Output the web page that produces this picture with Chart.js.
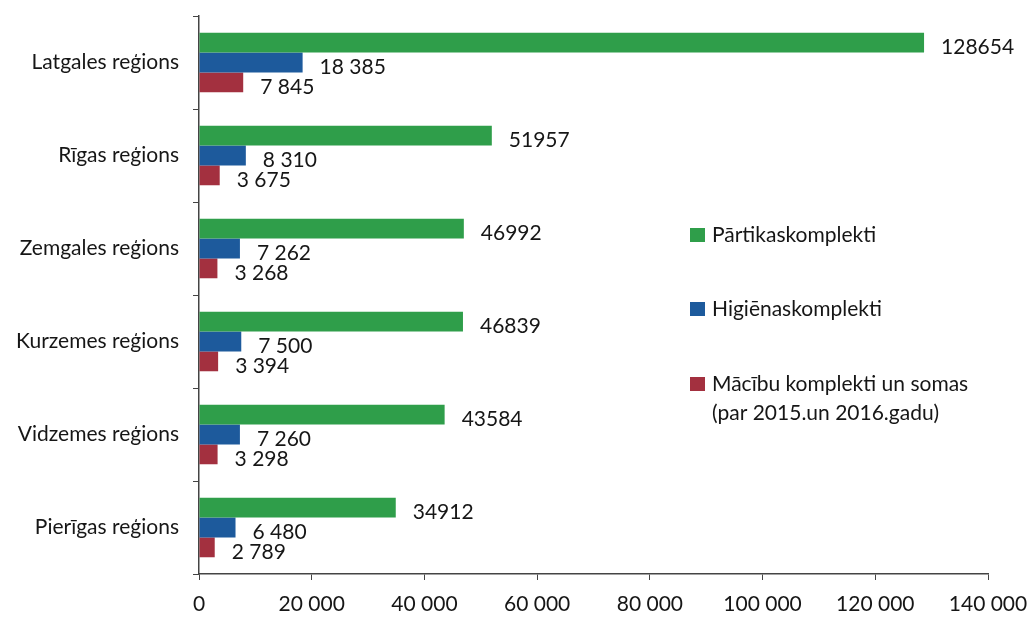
<!DOCTYPE html>
<html>
<head>
<meta charset="utf-8">
<script src="https://cdn.jsdelivr.net/npm/chart.js@4"></script>
<style>
  html, body { margin: 0; padding: 0; background: #fff; }
  #wrap { width: 1027px; height: 621px; }
</style>
</head>
<body>
<div id="wrap"><canvas id="chart" width="1027" height="621"></canvas></div>
<script>
const regions = ['Latgales reģions', 'Rīgas reģions', 'Zemgales reģions', 'Kurzemes reģions', 'Vidzemes reģions', 'Pierīgas reģions'];
const seriesNames = ['Pārtikaskomplekti', 'Higiēnaskomplekti', ['Mācību komplekti un somas', '(par 2015.un 2016.gadu)']];
const partika = [128654, 51957, 46992, 46839, 43584, 34912];
const higiena = [18385, 8310, 7262, 7500, 7260, 6480];
const macibu = [7845, 3675, 3268, 3394, 3298, 2789];
const xTicks = [0, 20000, 40000, 60000, 80000, 100000, 120000, 140000];

const colors = ['#2f9e4a', '#1d5a9c', '#a3303f'];
const fontFamily = 'Lato, "Open Sans", sans-serif';
const textColor = '#161616';

function spaced(n) {
  return String(n).replace(/\B(?=(\d{3})+(?!\d))/g, ' ');
}

// value labels to the right of each bar
const valueLabels = {
  id: 'valueLabels',
  afterDatasetsDraw(chart) {
    const ctx = chart.ctx;
    ctx.save();
    ctx.font = '21px ' + fontFamily;
    ctx.fillStyle = textColor;
    ctx.textAlign = 'left';
    ctx.textBaseline = 'middle';
    chart.data.datasets.forEach((ds, i) => {
      chart.getDatasetMeta(i).data.forEach((bar, j) => {
        const v = ds.data[j];
        const txt = i === 0 ? String(v) : spaced(v);
        ctx.fillText(txt, bar.x + 17, bar.y + 5);
      });
    });
    ctx.restore();
  }
};

// legend drawn at the right, like the original
const sideLegend = {
  id: 'sideLegend',
  afterDraw(chart) {
    const ctx = chart.ctx;
    const rows = [235, 309, 384];
    ctx.save();
    ctx.font = '21px ' + fontFamily;
    ctx.textBaseline = 'middle';
    chart.data.datasets.forEach((ds, i) => {
      const y = rows[i];
      ctx.fillStyle = ds.backgroundColor;
      ctx.fillRect(690, y - 7, 15, 14);
      ctx.fillStyle = textColor;
      const lines = Array.isArray(seriesNames[i]) ? seriesNames[i] : [seriesNames[i]];
      lines.forEach((l, k) => ctx.fillText(l, 712, y + k * 29));
    });
    ctx.restore();
  }
};

new Chart(document.getElementById('chart'), {
  type: 'bar',
  data: {
    labels: regions,
    datasets: [
      { label: 'Pārtikaskomplekti', data: partika, backgroundColor: colors[0] },
      { label: 'Higiēnaskomplekti', data: higiena, backgroundColor: colors[1] },
      { label: 'Mācību komplekti un somas (par 2015.un 2016.gadu)', data: macibu, backgroundColor: colors[2] }
    ]
  },
  options: {
    indexAxis: 'y',
    responsive: false,
    animation: false,
    layout: { padding: { top: 16, right: 39, left: 0, bottom: 0 } },
    datasets: { bar: { categoryPercentage: 0.64, barPercentage: 1.0 } },
    plugins: { legend: { display: false }, tooltip: { enabled: false } },
    scales: {
      x: {
        min: 0,
        max: 140000,
        afterBuildTicks(scale) { scale.ticks = xTicks.map(v => ({ value: v })); },
        afterFit(scale) {
          scale.height = 47;
          scale.paddingLeft = 0;
          scale.paddingRight = 0;
        },
        border: { display: true, color: '#444', width: 1.5 },
        grid: { drawOnChartArea: false, drawTicks: true, tickLength: 6, color: '#444' },
        ticks: {
          color: textColor,
          font: { family: fontFamily, size: 21 },
          padding: 12,
          maxRotation: 0,
          callback: v => spaced(v)
        }
      },
      y: {
        afterFit(scale) {
          scale.width = 199;
          scale.paddingTop = 0;
          scale.paddingBottom = 0;
        },
        border: { display: true, color: '#444', width: 1.5 },
        grid: { drawOnChartArea: false, drawTicks: true, tickLength: 6, color: '#444', offset: true },
        ticks: {
          color: textColor,
          font: { family: fontFamily, size: 21 },
          padding: 14
        }
      }
    }
  },
  plugins: [valueLabels, sideLegend]
});
</script>
</body>
</html>
